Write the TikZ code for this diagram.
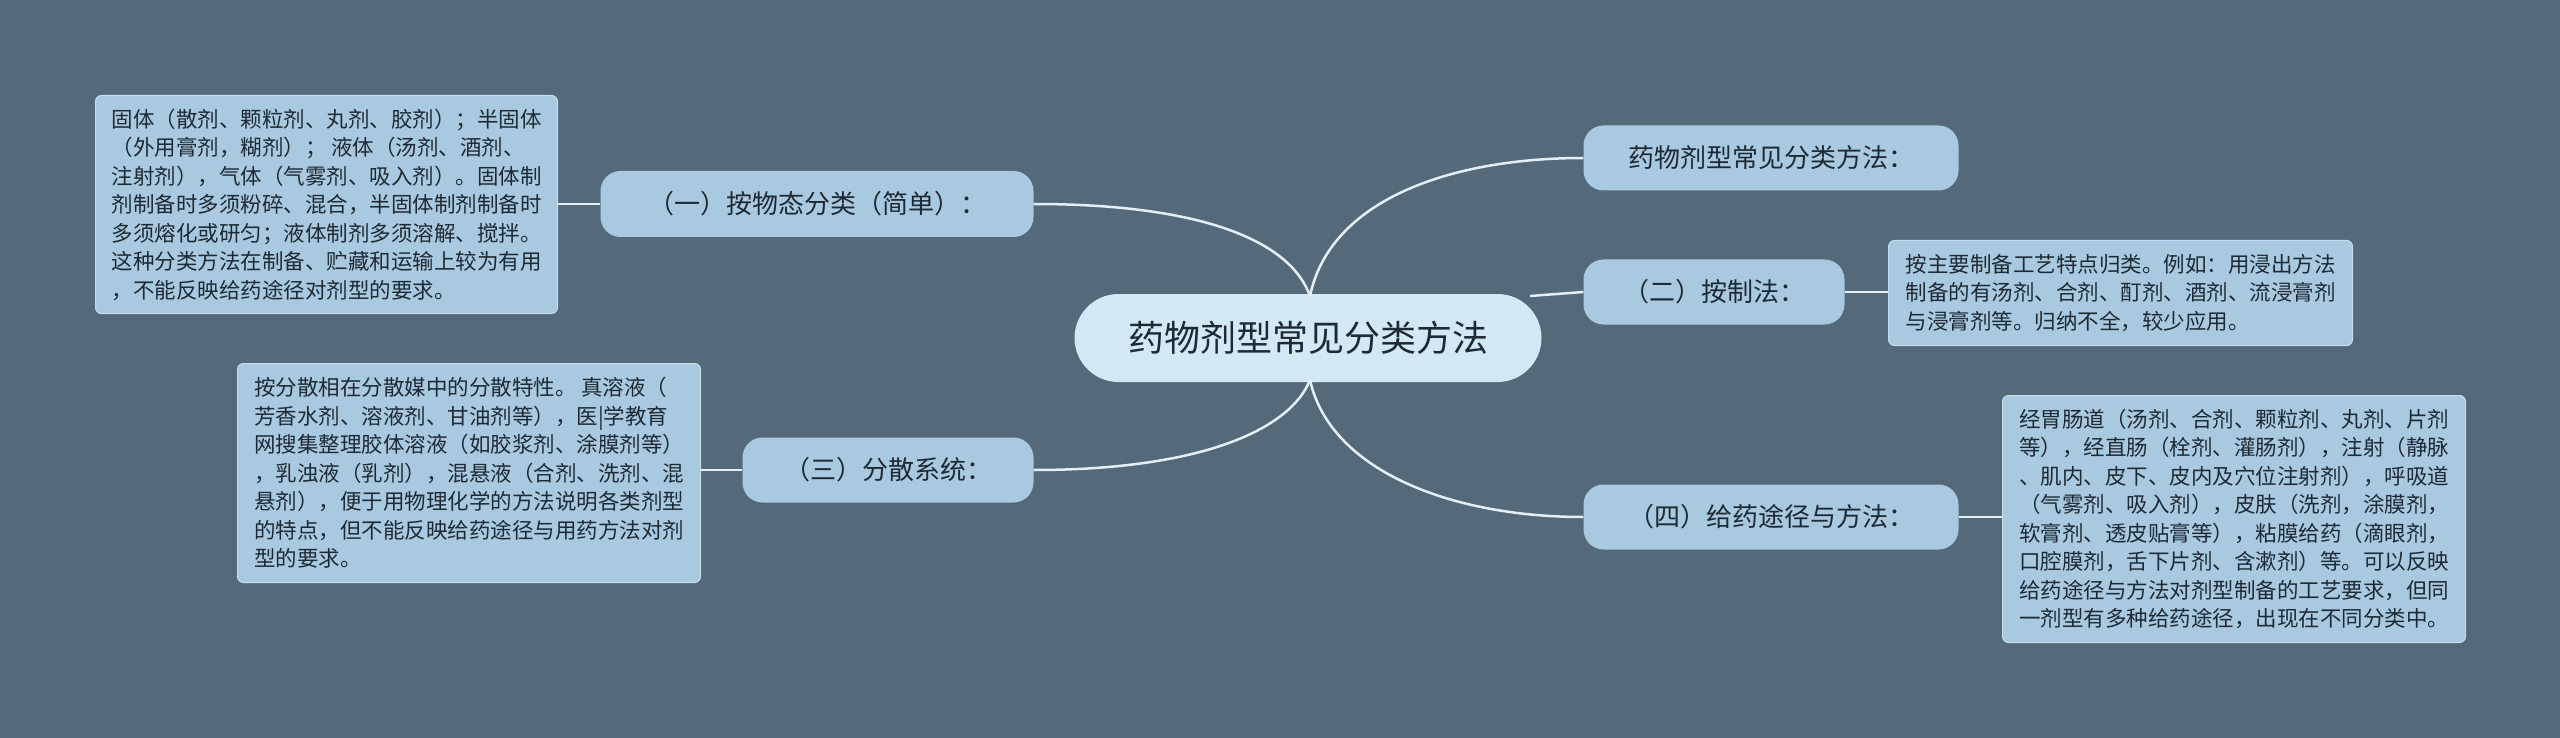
\documentclass[tikz,border=0pt]{standalone}
\usepackage{fontspec}
\setmainfont{Noto Sans CJK SC}
\begin{document}
\begin{tikzpicture}[x=1pt,y=-1pt,
  conn/.style={draw=linec,line width=2.5pt},
  branch/.style={fill=nodef,rounded corners=20pt,font=\fontsize{26}{30}\selectfont,text=textc,inner sep=0pt},
  box/.style={fill=nodef,draw=boxb,line width=1pt,rounded corners=6pt,font=\fontsize{21.5}{28.5}\selectfont,text=textc,align=left,anchor=north west,inner xsep=11pt,inner ysep=9pt}]
\definecolor{bg}{HTML}{546A7A}
\definecolor{nodef}{HTML}{A9C9E1}
\definecolor{centf}{HTML}{D3E8F5}
\definecolor{linec}{HTML}{E4EEF4}
\definecolor{textc}{HTML}{1E2A33}
\definecolor{boxb}{HTML}{C8DDEC}
\fill[bg] (0,0) rectangle (2560,738);
\useasboundingbox (0,0) rectangle (2560,738);
% center
\node[fill=centf,rounded corners=44pt,minimum width=467pt,minimum height=88pt,font=\fontsize{36}{40}\selectfont,text=textc,inner sep=0pt] (c) at (1308,338) {药物剂型常见分类方法};
% branches
\node[branch,minimum width=375pt,minimum height=65pt] (r1) at (1771,158) {药物剂型常见分类方法：};
\node[branch,minimum width=261pt,minimum height=65pt] (r2) at (1714,292) {（二）按制法：};
\node[branch,minimum width=375pt,minimum height=65pt] (r4) at (1771,517) {（四）给药途径与方法：};
\node[branch,minimum width=433pt,minimum height=66pt] (l1) at (817,204) {（一）按物态分类（简单）：};
\node[branch,minimum width=291pt,minimum height=65pt] (l3) at (888,470) {（三）分散系统：};
% boxes
\node[box,minimum width=462pt,minimum height=218pt] (b1) at (95,95) {固体（散剂、颗粒剂、丸剂、胶剂）；半固体\\（外用膏剂，糊剂）； 液体（汤剂、酒剂、\\注射剂），气体（气雾剂、吸入剂）。固体制\\剂制备时多须粉碎、混合，半固体制剂制备时\\多须熔化或研匀；液体制剂多须溶解、搅拌。\\这种分类方法在制备、贮藏和运输上较为有用\\，不能反映给药途径对剂型的要求。};
\node[box,minimum width=463pt,minimum height=219pt] (b3) at (237,363) {按分散相在分散媒中的分散特性。 真溶液（\\芳香水剂、溶液剂、甘油剂等），医|学教育\\网搜集整理胶体溶液（如胶浆剂、涂膜剂等）\\，乳浊液（乳剂），混悬液（合剂、洗剂、混\\悬剂），便于用物理化学的方法说明各类剂型\\的特点，但不能反映给药途径与用药方法对剂\\型的要求。};
\node[box,minimum width=464pt,minimum height=105pt] (b2) at (1888,240) {按主要制备工艺特点归类。例如：用浸出方法\\制备的有汤剂、合剂、酊剂、酒剂、流浸膏剂\\与浸膏剂等。归纳不全，较少应用。};
\node[box,minimum width=463pt,minimum height=247pt] (b4) at (2002,395) {经胃肠道（汤剂、合剂、颗粒剂、丸剂、片剂\\等），经直肠（栓剂、灌肠剂），注射（静脉\\、肌内、皮下、皮内及穴位注射剂），呼吸道\\（气雾剂、吸入剂），皮肤（洗剂，涂膜剂，\\软膏剂、透皮贴膏等），粘膜给药（滴眼剂，\\口腔膜剂，舌下片剂、含漱剂）等。可以反映\\给药途径与方法对剂型制备的工艺要求，但同\\一剂型有多种给药途径，出现在不同分类中。};
% connectors
\coordinate (ct) at (1310,296);
\coordinate (cb) at (1310,380);
\path[conn] (ct) .. controls (1330,200) and (1450,158) .. (r1.west);
\path[conn] (1530,296) -- (r2.west);
\path[conn] (cb) .. controls (1330,470) and (1450,517) .. (r4.west);
\path[conn] (ct) .. controls (1290,240) and (1200,204) .. (l1.east);
\path[conn] (cb) .. controls (1290,430) and (1200,470) .. (l3.east);
\path[conn] (r2.east) -- (b2.west |- r2.east);
\path[conn] (r4.east) -- (b4.west |- r4.east);
\path[conn] (l1.west) -- (b1.east |- l1.west);
\path[conn] (l3.west) -- (b3.east |- l3.west);
\end{tikzpicture}
\end{document}
